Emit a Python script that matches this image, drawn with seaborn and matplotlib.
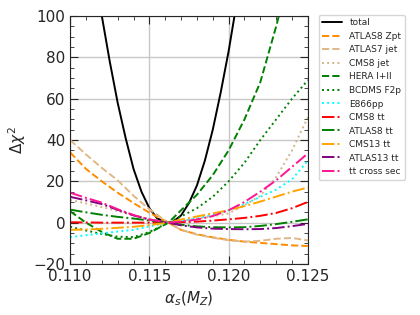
import matplotlib
matplotlib.use("Agg")
import matplotlib.pyplot as plt
import seaborn as sns
import numpy as np
from matplotlib.ticker import MultipleLocator, FormatStrFormatter

# shared alpha_s grid for the individual data sets
alphas = [0.110, 0.111, 0.112, 0.113, 0.114, 0.115, 0.1162,
          0.117, 0.118, 0.119, 0.120, 0.121, 0.122, 0.123, 0.124, 0.125]

# finer grid for the total
alphas_total = [0.1110, 0.1115, 0.1120, 0.1125, 0.1130, 0.1135, 0.1140,
                0.1145, 0.1150, 0.1155, 0.1162, 0.1165, 0.1170, 0.1175,
                0.1180, 0.1185, 0.1190, 0.1195, 0.1200, 0.1205, 0.1210]
total = [155, 127, 100, 78, 58, 41, 26, 15, 7, 2, 0, 0.5, 3.5, 9.5,
         18, 30, 45, 63, 83, 106, 132]

atlas8_zpt = [34, 26, 20, 14.5, 9.5, 4.8, 0, -3.5, -5.6, -7.1, -8.3,
              -9.2, -9.8, -10.4, -11, -11.3]
atlas7_jet = [40, 33, 26.5, 20.5, 13, 6.5, 0, -3.5, -5.8, -7.3, -8.5,
              -9.2, -8.8, -7.8, -7.4, -8.6]
cms8_jet = [11, 9.3, 7.6, 5.6, 3.5, 1.7, 0, 0.8, 2, 3, 4.5, 8.5, 13,
            22, 35, 51]
hera = [5.5, 0, -4.5, -7.8, -7.8, -5, 0, 6, 13.5, 23, 35, 50, 68, 95,
        125, 160]
bcdms = [-2, -3.8, -5.5, -6.8, -7, -4.5, 0, 3, 7, 12.5, 20, 29, 40, 50,
         60, 69]
e866pp = [-7, -6.1, -5.2, -4.3, -3.5, -1.8, 0, 0.7, 2, 3.8, 6, 9, 12.5,
          16, 21, 30]
cms8_tt = [0.2, 0.1, 0, 0, 0, 0, 0, 0.2, 0.5, 1, 1.6, 2.3, 3.3, 4.7, 7,
           10]
atlas8_tt = [6.3, 5, 3.8, 2.8, 2, 1, 0, -1, -1.8, -2.2, -2.3, -2.2,
             -1.6, -0.7, 0.4, 1.6]
cms13_tt = [-3.5, -3.3, -3, -2.5, -2, -1.2, 0, 1.5, 3, 4.5, 6, 8, 10.2,
            12.6, 15, 17]
atlas13_tt = [12.5, 10.8, 9, 6.2, 3.5, 1.5, 0, -1.3, -2.3, -2.9, -3.1,
              -3.2, -3.1, -2.6, -1.7, -0.6]
tt_xsec = [14.5, 12, 9.7, 6.5, 3.7, 1.5, 0, 0.5, 1.5, 3.2, 6, 10, 15,
           20.5, 27, 33.5]

series = [
    ("ATLAS8 Zpt", atlas8_zpt, "darkorange", "--"),
    ("ATLAS7 jet", atlas7_jet, "burlywood", "--"),
    ("CMS8 jet", cms8_jet, "tan", ":"),
    ("HERA I+II", hera, "green", "--"),
    ("BCDMS F2p", bcdms, "green", ":"),
    ("E866pp", e866pp, "cyan", ":"),
    ("CMS8 tt", cms8_tt, "red", "-."),
    ("ATLAS8 tt", atlas8_tt, "green", "-."),
    ("CMS13 tt", cms13_tt, "orange", "-."),
    ("ATLAS13 tt", atlas13_tt, "purple", "-."),
    ("tt cross sec", tt_xsec, "deeppink", "-."),
]

sns.set_style("ticks")
fig = plt.figure(figsize=(4.2, 3.15), dpi=100)
ax = fig.add_axes([0.167, 0.162, 0.566, 0.787])

sns.lineplot(x=alphas_total, y=total, color="black", lw=1.4,
             label="total", ax=ax)
for name, vals, col, ls in series:
    sns.lineplot(x=alphas, y=vals, color=col, linestyle=ls, lw=1.4,
                 label=name, ax=ax)

ax.set_xlim(0.110, 0.125)
ax.set_ylim(-20, 100)
ax.xaxis.set_major_locator(MultipleLocator(0.005))
ax.xaxis.set_minor_locator(MultipleLocator(0.001))
ax.yaxis.set_major_locator(MultipleLocator(20))
ax.yaxis.set_minor_locator(MultipleLocator(5))
ax.xaxis.set_major_formatter(FormatStrFormatter("%.3f"))
ax.tick_params(which="both", direction="in", top=True, right=True,
               labelsize=11)
ax.tick_params(which="major", length=6)
ax.tick_params(which="minor", length=3)
ax.grid(True, which="major", color="#c8c8c8", lw=1)
ax.set_xlabel(r"$\alpha_s(M_Z)$", fontsize=11)
ax.set_ylabel(r"$\Delta\chi^2$", fontsize=11)

ax.legend(loc="upper left", bbox_to_anchor=(1.045, 1.005), fontsize=6.5,
          borderaxespad=0, handlelength=2.2)

fig.savefig("out.png", dpi=100)
